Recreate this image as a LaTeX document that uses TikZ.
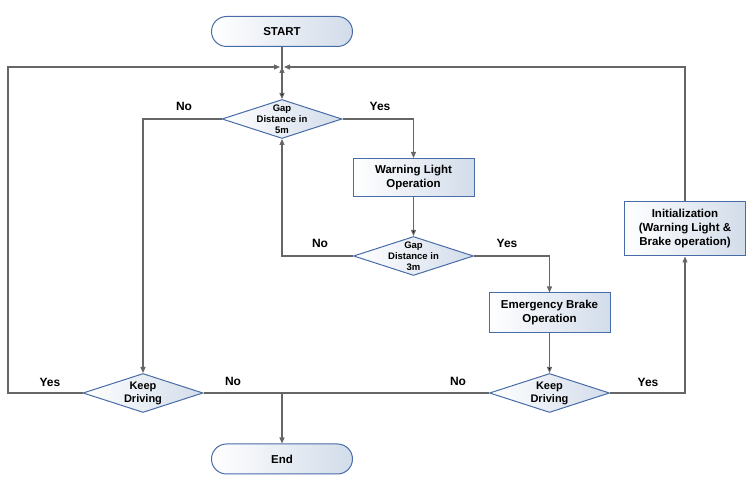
\documentclass[tikz,border=0pt]{standalone}
\usepackage{fontspec}
\setsansfont{Liberation Sans}
\usetikzlibrary{arrows.meta,shapes.geometric}
\definecolor{node_blue}{RGB}{72,108,168}
\definecolor{node_fill}{RGB}{210,220,234}
\definecolor{line_gray}{RGB}{102,102,102}

\begin{document}
\begin{tikzpicture}[x=1pt,y=-1pt,
  box_node/.style={rectangle,draw=node_blue,line width=1pt,left color=white,right color=node_fill,minimum width=121pt,minimum height=38pt,align=center,font=\sffamily\bfseries\fontsize{11.5}{14}\selectfont},
  term_node/.style={box_node,rounded corners=15pt,minimum width=141pt,minimum height=30pt},
  dec_node/.style={diamond,draw=node_blue,line width=1pt,left color=white,right color=node_fill,minimum width=120pt,minimum height=39pt,inner sep=0pt},
  dec_text/.style={align=center,font=\sffamily\bfseries\fontsize{9.5}{11}\selectfont},
  keep_text/.style={align=center,font=\sffamily\bfseries\fontsize{11}{13}\selectfont},
  lab_node/.style={font=\sffamily\bfseries\fontsize{12}{14}\selectfont},
  arrow_line/.style={draw=line_gray,line width=1.1pt,-{Triangle[length=6pt,width=5pt]}}]

    \useasboundingbox (0,0) rectangle (756,486);

    \node[term_node] (1) at (282,31.5) {START};
    \node[dec_node,label={[dec_text]center:Gap\\Distance in\\5m}] (2) at (282,119) {};
    \node[box_node] (3) at (413.5,177.5) {Warning Light\\Operation};
    \node[dec_node,label={[dec_text]center:Gap\\Distance in\\3m}] (4) at (413.5,256) {};
    \node[box_node,minimum height=40pt] (5) at (549.5,313) {Emergency Brake\\Operation};
    \node[dec_node,label={[keep_text]center:Keep\\Driving}] (6) at (549.5,393) {};
    \node[dec_node,label={[keep_text]center:Keep\\Driving}] (7) at (143,393) {};
    \node[box_node,minimum height=54pt] (8) at (685,229) {Initialization\\(Warning Light \&\\Brake operation)};
    \node[term_node] (9) at (282,459) {End};

    \coordinate (m) at (282,67);
    \coordinate (l) at (8,67);
    \coordinate (j) at (282,393);

    \path[arrow_line]
    (1) edge[-] (m)
    (m) edge (2)
    (3) edge (4)
    (5) edge (6);

    \draw[arrow_line,-] (7.east) -- (6.west);
    \draw[arrow_line] (j) -- (9.north);
    \draw[arrow_line] (2.east) -| (3.north);
    \draw[arrow_line] (4.east) -| (5.north);
    \draw[arrow_line] (4.west) -| (2.south);
    \draw[arrow_line] (2.west) -| (7.north);
    \draw[arrow_line] (6.east) -| (8.south);
    \draw[arrow_line,shorten >=2pt] (7.west) -| (l) -- (m);
    \draw[arrow_line,shorten >=2pt] (8.north) |- (m);

    \node[lab_node] (n1) at (184,106) {No};
    \node[lab_node] (y1) at (380,106) {Yes};
    \node[lab_node] (n2) at (320,243) {No};
    \node[lab_node] (y2) at (507,243) {Yes};
    \node[lab_node] (y3) at (50,382) {Yes};
    \node[lab_node] (n3) at (233,381) {No};
    \node[lab_node] (n4) at (458,381) {No};
    \node[lab_node] (y4) at (648,382) {Yes};

%   \path[lab_node]
%     (2) edge node [above] {} (3);
\end{tikzpicture}
\end{document}
